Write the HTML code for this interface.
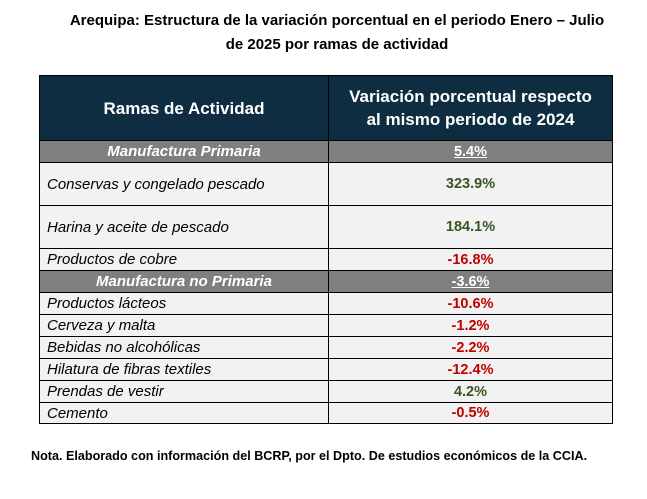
<!DOCTYPE html>
<html><head><meta charset="utf-8"><style>
body{margin:0;width:647px;height:499px;background:#fff;font-family:"Liberation Sans",sans-serif;position:relative;overflow:hidden}
.t{position:absolute;left:0;width:674px;text-align:center;font-weight:bold;font-size:15px;color:#000}
.r{position:absolute;left:39px;width:574px;box-sizing:border-box;border:1px solid #000;border-top:none;display:flex;background:#f2f2f2}
.c1{width:289px;border-right:1px solid #000;box-sizing:border-box;display:flex;align-items:center;padding-left:7px;font-style:italic;font-size:15px;color:#000}
.c2{flex:1;display:flex;align-items:center;justify-content:center;font-weight:bold;font-size:14.5px}
.g{background:#7f7f7f}.g .c1{color:#fff;font-weight:bold;justify-content:center;padding:0}.g .c2{color:#fff;text-decoration:underline}
.red{color:#c00000}.grn{color:#375623}
.h{background:#0e2d40;top:75px;height:66px;border-top:1px solid #000}
.h .c1,.h .c2{color:#fff;font-style:normal;font-weight:bold;font-size:17px;justify-content:center;text-align:center;padding:0;line-height:23px}
</style></head><body>
<div class="t" style="top:12px">Arequipa: Estructura de la variación porcentual en el periodo Enero – Julio</div>
<div class="t" style="top:36px">de 2025 por ramas de actividad</div>
<div class="r h"><div class="c1">Ramas de Actividad</div><div class="c2">Variación porcentual respecto<br>al mismo periodo de 2024</div></div>
<div class="r g" style="top:141px;height:22px"><div class="c1">Manufactura Primaria</div><div class="c2">5.4%</div></div>
<div class="r" style="top:163px;height:43px"><div class="c1">Conservas y congelado pescado</div><div class="c2 grn">323.9%</div></div>
<div class="r" style="top:206px;height:43px"><div class="c1">Harina y aceite de pescado</div><div class="c2 grn">184.1%</div></div>
<div class="r" style="top:249px;height:22px"><div class="c1">Productos de cobre</div><div class="c2 red">-16.8%</div></div>
<div class="r g" style="top:271px;height:22px"><div class="c1">Manufactura no Primaria</div><div class="c2">-3.6%</div></div>
<div class="r" style="top:293px;height:22px"><div class="c1">Productos lácteos</div><div class="c2 red">-10.6%</div></div>
<div class="r" style="top:315px;height:22px"><div class="c1">Cerveza y malta</div><div class="c2 red">-1.2%</div></div>
<div class="r" style="top:337px;height:22px"><div class="c1">Bebidas no alcohólicas</div><div class="c2 red">-2.2%</div></div>
<div class="r" style="top:359px;height:22px"><div class="c1">Hilatura de fibras textiles</div><div class="c2 red">-12.4%</div></div>
<div class="r" style="top:381px;height:22px"><div class="c1">Prendas de vestir</div><div class="c2 grn">4.2%</div></div>
<div class="r" style="top:403px;height:21px"><div class="c1">Cemento</div><div class="c2 red">-0.5%</div></div>
<div style="position:absolute;left:31px;top:449px;font-size:12.6px;font-weight:bold">Nota. Elaborado con información del BCRP, por el Dpto. De estudios económicos de la CCIA.</div>
</body></html>
